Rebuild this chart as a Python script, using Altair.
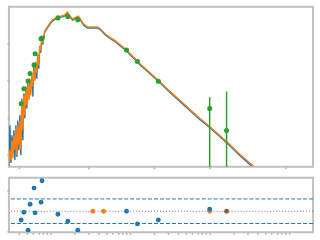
import altair as alt
import pandas as pd
import numpy as np

# log10 wavelength (um) and log10 flux for model (orange) and observed spectrum (blue)
model_logwave = [-0.525, -0.5125, -0.5, -0.4875, -0.475, -0.4625, -0.45, -0.4375, -0.425, -0.4125,
                 -0.4, -0.3875, -0.375, -0.3625, -0.35, -0.3375, -0.325, -0.3125, -0.3, -0.2875,
                 -0.275, -0.2625, -0.25, -0.2375, -0.225, -0.2125, -0.2, -0.1875, -0.175, -0.1625,
                 -0.15, -0.1375, -0.125, -0.1125, -0.1, -0.075, -0.05, -0.025, 0.0, 0.025,
                 0.0625, 0.1, 0.1375, 0.175, 0.2, 0.2125, 0.225, 0.25, 0.275, 0.3,
                 0.325, 0.35, 0.375, 0.4125, 0.4625, 0.525, 0.5875, 0.625, 0.6875, 0.75,
                 0.8125, 0.875, 0.95, 1.0, 1.0625, 1.125, 1.25, 1.375, 1.5, 1.625,
                 1.75, 1.875, 2.0, 2.125, 2.25, 2.375, 2.55]
model_logflux = [-0.27, 0.13, -0.13, 0.40, -0.08, 0.53, 0.13, 0.72, 0.00, 0.80,
                 0.27, 0.93, 0.13, 1.47, 0.67, 1.60, 1.07, 1.79, 1.33, 1.89,
                 1.47, 2.05, 1.60, 2.13, 1.84, 2.32, 2.00, 2.48, 2.21, 2.67,
                 2.40, 2.93, 2.80, 3.12, 3.01, 3.33, 3.41, 3.49, 3.57, 3.63,
                 3.68, 3.71, 3.73, 3.76, 3.81, 3.84, 3.79, 3.71, 3.65, 3.68,
                 3.71, 3.73, 3.65, 3.52, 3.44, 3.44, 3.44, 3.39, 3.25, 3.15,
                 3.07, 2.96, 2.83, 2.72, 2.59, 2.45, 2.21, 1.97, 1.71, 1.47,
                 1.23, 0.99, 0.77, 0.53, 0.29, 0.03, -0.29]

spec_logwave = model_logwave[:-1] + [2.525]
spec_logflux = [-0.29, 0.80, -0.21, 0.53, 0.08, 0.67, -0.13, 0.80, -0.05, 0.93,
                0.13, 1.07, 0.00, 1.52, 0.40, 1.65, 0.99, 1.84, 1.25, 1.95,
                1.52, 2.00, 1.79, 2.13, 1.57, 2.37, 2.00, 2.48, 2.05, 2.69,
                2.32, 2.91, 2.75, 3.12, 2.96, 3.30, 3.38, 3.46, 3.54, 3.60,
                3.65, 3.68, 3.71, 3.73, 3.78, 3.81, 3.76, 3.68, 3.62, 3.65,
                3.68, 3.70, 3.62, 3.49, 3.41, 3.41, 3.41, 3.36, 3.22, 3.12,
                3.04, 2.93, 2.80, 2.69, 2.56, 2.42, 2.18, 1.94, 1.68, 1.44,
                1.20, 0.96, 0.74, 0.50, 0.26, 0.00, -0.29]

# photometry (green) in the top panel
phot_logwave = [-0.371, -0.3375, -0.284, -0.259, -0.209, -0.196, -0.121, -0.109,
                0.091, 0.216, 0.341, 0.954, 1.091, 1.354, 2.0, 2.2125]
phot_logflux = [1.38, 1.78, 1.99, 2.19, 2.42, 2.72, 3.12, 3.14,
                3.68, 3.72, 3.63, 2.82, 2.51, 1.98, 1.25, 0.66]
phot_err_lo = [1.36, 1.76, 1.97, 2.17, 2.40, 2.70, 3.10, 3.12,
               3.67, 3.71, 3.62, 2.81, 2.50, 1.96, -1.0, -1.0]
phot_err_hi = [1.40, 1.80, 2.01, 2.21, 2.44, 2.74, 3.14, 3.16,
               3.69, 3.73, 3.64, 2.83, 2.52, 2.00, 1.55, 1.71]

# residuals (bottom panel)
res_logwave = [0.529, 0.666, 2.0,
               -0.371, -0.3375, -0.284, -0.259, -0.209, -0.196, -0.121, -0.109,
               0.091, 0.216, 0.341, 0.954, 1.091, 1.354, 2.0, 2.2125]
res_value = [0.0, 0.0, 0.0,
             -0.43, -0.05, -0.93, 0.34, 1.13, -0.08, 0.44, 1.49,
             -0.15, -0.49, -0.93, 0.0, -0.62, -0.43, 0.10, 0.0]
res_group = ["C1", "C1", "C1",
             "C0", "C0", "C0", "C0", "C0", "C0", "C0", "C0",
             "C0", "C0", "C0", "C0", "C0", "C0", "C0", "C5"]
res_dashed = [0.6, -0.6]

BLUE, ORANGE, GREEN, BROWN = "#1f77b4", "#ff7f0e", "#2ca02c", "#8c564b"
TICK = "#b0b0b0"

xticks = [float(np.log10(m * 10.0 ** d)) for d in range(-1, 4) for m in range(1, 10)]
xticks = [t for t in xticks if -0.52 < t < 3.29]

xdom = [-0.525, 3.3]
ydom = [-0.31, 3.98]

x_axis = alt.Axis(values=xticks, labels=False, domain=False, grid=False, title=None,
                  tickSize=2, tickColor=TICK, tickWidth=1.5)

model_df = pd.DataFrame({"w": model_logwave, "f": model_logflux})
spec_df = pd.DataFrame({"w": spec_logwave, "f": spec_logflux})
phot_df = pd.DataFrame({"w": phot_logwave, "f": phot_logflux, "lo": phot_err_lo, "hi": phot_err_hi})
res_df = pd.DataFrame({"w": res_logwave, "r": res_value, "g": res_group})

xs = alt.Scale(domain=xdom, nice=False, zero=False)
ys = alt.Scale(domain=ydom, nice=False, zero=False)
y_axis = alt.Axis(values=[0, 1, 2, 3], labels=False, domain=False, grid=False, title=None,
                  tickSize=2, tickColor=TICK, tickWidth=1.5)

spec = alt.Chart(spec_df).mark_line(color=BLUE, strokeWidth=1.4, clip=True).encode(
    x=alt.X("w:Q", scale=xs, axis=x_axis),
    y=alt.Y("f:Q", scale=ys, axis=y_axis),
)
model = alt.Chart(model_df).mark_line(color=ORANGE, strokeWidth=1.4, clip=True).encode(
    x=alt.X("w:Q", scale=xs),
    y=alt.Y("f:Q", scale=ys),
)
err = alt.Chart(phot_df).mark_rule(color=GREEN, strokeWidth=1.5, clip=True).encode(
    x=alt.X("w:Q", scale=xs),
    y=alt.Y("lo:Q", scale=ys),
    y2="hi:Q",
)
pts = alt.Chart(phot_df).mark_circle(color=GREEN, size=26, opacity=1, clip=True).encode(
    x=alt.X("w:Q", scale=xs),
    y=alt.Y("f:Q", scale=ys),
)
top = alt.layer(spec, model, err, pts).properties(width=306, height=161)

rs = alt.Scale(domain=[-1.03, 1.64], nice=False, zero=False)
r_axis = alt.Axis(values=[-1, 0, 1], labels=False, domain=False, grid=False, title=None,
                  tickSize=2, tickColor=TICK, tickWidth=1.5)
dash_df = pd.DataFrame({"r": res_dashed})
dashed = alt.Chart(dash_df).mark_rule(color=BLUE, strokeWidth=1, strokeDash=[4, 2]).encode(
    y=alt.Y("r:Q", scale=rs, axis=r_axis),
)
zero_df = pd.DataFrame({"r": [0.0]})
dotted = alt.Chart(zero_df).mark_rule(color="#5f7891", strokeWidth=1, strokeDash=[1, 2]).encode(
    y=alt.Y("r:Q", scale=rs),
)
rpts = alt.Chart(res_df).mark_circle(size=24, opacity=1, clip=True).encode(
    x=alt.X("w:Q", scale=xs, axis=x_axis),
    y=alt.Y("r:Q", scale=rs),
    color=alt.Color("g:N", scale=alt.Scale(domain=["C0", "C1", "C5"], range=[BLUE, ORANGE, BROWN]),
                    legend=None),
)
bottom = alt.layer(dashed, dotted, rpts).properties(width=306, height=55)

chart = alt.vconcat(top, bottom, spacing=6).properties(
    padding={"left": 5, "top": 5, "right": 5, "bottom": 5},
    background="white",
).configure_view(stroke="#c0c0c0", strokeWidth=2)

chart.save("out.html", embed_options={"renderer": "svg", "actions": False})
